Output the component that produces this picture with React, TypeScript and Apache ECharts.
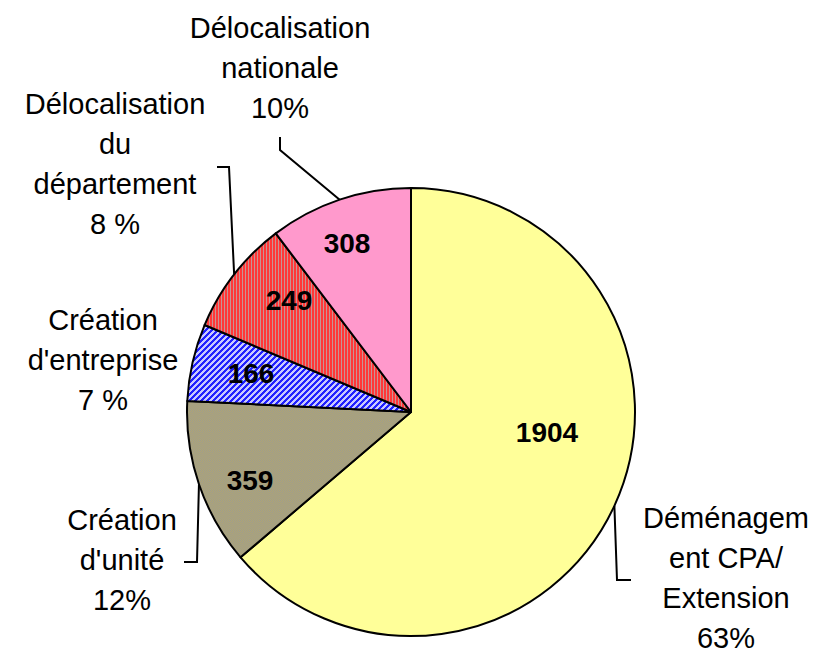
import React, { useEffect, useRef } from 'react';
import * as echarts from 'echarts';

// ---- data ----
const categories = [
  'Déménagement CPA/ Extension',
  "Création d'unité",
  "Création d'entreprise",
  'Délocalisation du département',
  'Délocalisation nationale',
];
const labelTexts = [
  'Déménagem\nent CPA/\nExtension',
  "Création\nd'unité",
  "Création\nd'entreprise",
  'Délocalisation\ndu\ndépartement',
  'Délocalisation\nnationale',
];
const values = [1904, 359, 166, 249, 308];
const percentLabels = ['63%', '12%', '7 %', '8 %', '10%'];

// ---- layout ----
const CX = 411;
const CY = 412;
const R = 224;
const FONT = '"Liberation Sans", Arial, sans-serif';
const VALUE_POS: number[][] = [
  [547, 432],
  [250, 480],
  [251, 373],
  [289, 300],
  [347, 243],
];
const LABEL_POS: number[][] = [
  [726, 578],
  [122, 560],
  [103, 360],
  [115, 164],
  [280, 68],
];
const LEADERS: (number[][] | null)[] = [
  [[617, 580], [631, 580]],
  [[197, 562], [184, 562]],
  null,
  [[229, 167], [217, 167]],
  [[280, 150], [280, 137]],
];

function makePattern(w: number, h: number, fn: (x: number, y: number) => string) {
  const c = document.createElement('canvas');
  c.width = w;
  c.height = h;
  const ctx = c.getContext('2d')!;
  for (let y = 0; y < h; y++) {
    for (let x = 0; x < w; x++) {
      ctx.fillStyle = fn(x, y);
      ctx.fillRect(x, y, 1, 1);
    }
  }
  return { image: c.toDataURL(), repeat: 'repeat', imageWidth: w, imageHeight: h } as any;
}

function arcPoint(i: number): number[] {
  const total = values.reduce((a, b) => a + b, 0);
  let cum = 0;
  for (let k = 0; k < i; k++) cum += values[k];
  const mid = cum + values[i] / 2;
  const ang = ((90 - (mid / total) * 360) * Math.PI) / 180;
  return [CX + R * Math.cos(ang), CY - R * Math.sin(ang)];
}

export default function App() {
  const ref = useRef<HTMLDivElement>(null);
  useEffect(() => {
    if (!ref.current) return;
    const chart = echarts.init(ref.current, undefined, { renderer: 'svg' });

    const grayPat = makePattern(8, 8, (x, y) => ((x + y) % 2 === 0 ? '#9E9C8E' : '#B0A672'));
    const bluePat = makePattern(6, 6, (x, y) => ((x + y) % 6 < 3 ? '#2020FF' : '#C8C8FF'));
    const redPat = makePattern(3, 1, (x) => (x === 2 ? '#C89494' : '#FF3838'));
    const fills: any[] = ['#FFFF99', grayPat, bluePat, redPat, '#FF99CC'];

    const innerData = values.map((v, i) => ({
      name: categories[i],
      value: v,
      itemStyle: { color: fills[i] },
    }));
    const outerData = values.map((v, i) => ({
      name: categories[i],
      value: v,
      labelLine: { show: LEADERS[i] != null },
    }));

    chart.setOption({
      animation: false,
      backgroundColor: '#ffffff',
      series: [
        {
          type: 'pie',
          center: [CX, CY],
          radius: R,
          startAngle: 90,
          clockwise: true,
          avoidLabelOverlap: false,
          silent: true,
          data: innerData,
          itemStyle: { borderColor: '#000000', borderWidth: 2 },
          label: {
            show: true,
            position: 'inside',
            formatter: (p: any) => String(p.value),
            fontFamily: FONT,
            fontWeight: 'bold',
            fontSize: 28,
            color: '#000000',
          },
          labelLine: { show: false },
          labelLayout: (p: any) => ({
            x: VALUE_POS[p.dataIndex][0],
            y: VALUE_POS[p.dataIndex][1],
            align: 'center',
            verticalAlign: 'middle',
          }),
          emphasis: { disabled: true },
        },
        {
          type: 'pie',
          center: [CX, CY],
          radius: R,
          startAngle: 90,
          clockwise: true,
          avoidLabelOverlap: false,
          silent: true,
          z: 3,
          data: outerData,
          itemStyle: { color: 'rgba(0,0,0,0)', borderWidth: 0 },
          label: {
            show: true,
            position: 'outside',
            formatter: (p: any) => labelTexts[p.dataIndex] + '\n' + percentLabels[p.dataIndex],
            fontFamily: FONT,
            fontSize: 29,
            lineHeight: 40,
            color: '#000000',
            align: 'center',
          },
          labelLine: { show: true, lineStyle: { color: '#000000', width: 2 } },
          labelLayout: (p: any) => {
            const i = p.dataIndex;
            const pts = LEADERS[i];
            const res: any = {
              x: LABEL_POS[i][0],
              y: LABEL_POS[i][1],
              align: 'center',
              verticalAlign: 'middle',
            };
            if (pts) res.labelLinePoints = [arcPoint(i), ...pts];
            return res;
          },
          emphasis: { disabled: true },
        },
      ],
    });
    return () => chart.dispose();
  }, []);

  return (
    <div
      ref={ref}
      style={{ position: 'absolute', left: 0, top: 0, width: 821, height: 653, background: '#fff' }}
    />
  );
}
